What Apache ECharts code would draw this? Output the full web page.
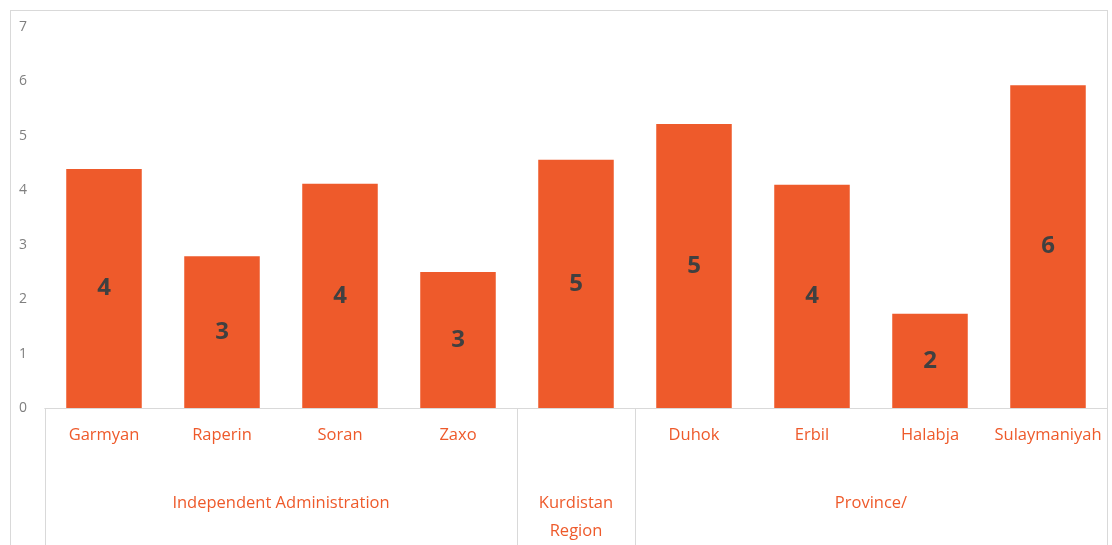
<!DOCTYPE html>
<html>
<head>
<meta charset="utf-8">
<script src="https://cdn.jsdelivr.net/npm/echarts@6/dist/echarts.min.js"></script>
<style>
  html, body { margin: 0; padding: 0; background: #fff; }
  .wrap { position: relative; width: 1112px; height: 545px; }
  .frame {
    position: absolute; left: 10px; top: 10px; width: 1098px; height: 540px;
    border: 1px solid #d9d9d9; border-bottom: none; box-sizing: border-box;
  }
  #main { position: absolute; left: 0; top: 0; width: 1112px; height: 545px; }
</style>
</head>
<body>
<div class="wrap">
  <div class="frame"></div>
  <div id="main"></div>
</div>
<script>
// data
const categories = ['Garmyan', 'Raperin', 'Soran', 'Zaxo', 'Kurdistan Region', 'Duhok', 'Erbil', 'Halabja', 'Sulaymaniyah'];
const catLabels = ['Garmyan', 'Raperin', 'Soran', 'Zaxo', '', 'Duhok', 'Erbil', 'Halabja', 'Sulaymaniyah'];
const values = [4.39, 2.79, 4.12, 2.5, 4.56, 5.22, 4.1, 1.73, 5.93];
const groups = ['Independent Administration', 'Kurdistan\nRegion', 'Province/'];
const groupSizes = [4, 1, 4];
const yTicks = [0, 1, 2, 3, 4, 5, 6, 7];

const orange = '#EE5A2B';
const textOrange = '#EE5A2B';
const gridColor = '#d9d9d9';

// group boundaries and centres on a 0..9 value axis
const bounds = [0];
groupSizes.forEach((n) => bounds.push(bounds[bounds.length - 1] + n));
const centres = groupSizes.map((n, i) => bounds[i] + n / 2);

const myChart = echarts.init(document.getElementById('main'));
myChart.setOption({
  animation: false,
  textStyle: { fontFamily: 'Open Sans' },
  grid: { left: 45, right: 5, top: 27, bottom: 137, containLabel: false },
  xAxis: [
    {
      type: 'category',
      data: categories,
      axisLine: { show: true, lineStyle: { color: gridColor } },
      axisTick: { show: false },
      axisLabel: {
        interval: 0,
        margin: 19,
        color: textOrange,
        fontSize: 16.5,
        fontFamily: 'Open Sans',
        formatter: (v, i) => catLabels[i],
      },
    },
    {
      type: 'value',
      position: 'bottom',
      min: 0,
      max: bounds[bounds.length - 1],
      splitLine: { show: false },
      axisLine: { show: true, lineStyle: { color: gridColor } },
      axisTick: {
        show: true,
        customValues: bounds,
        length: 140,
        lineStyle: { color: gridColor },
      },
      axisLabel: {
        customValues: centres,
        margin: 81,
        color: textOrange,
        fontSize: 16.5,
        lineHeight: 28,
        fontFamily: 'Open Sans',
        formatter: (v) => groups[centres.indexOf(v)],
      },
    },
  ],
  yAxis: {
    type: 'value',
    min: yTicks[0],
    max: yTicks[yTicks.length - 1],
    interval: 1,
    splitLine: { show: false },
    axisLine: { show: false },
    axisTick: { show: false },
    axisLabel: { color: '#7f7f7f', fontSize: 14, margin: 18, fontFamily: 'Open Sans' },
  },
  series: [
    {
      type: 'bar',
      data: values,
      barCategoryGap: '36%',
      itemStyle: { color: orange },
      label: {
        show: true,
        position: 'inside',
        color: '#404040',
        fontSize: 24,
        fontWeight: 'bold',
        fontFamily: 'Open Sans',
        formatter: (p) => Math.round(p.value),
      },
    },
  ],
});
</script>
</body>
</html>
